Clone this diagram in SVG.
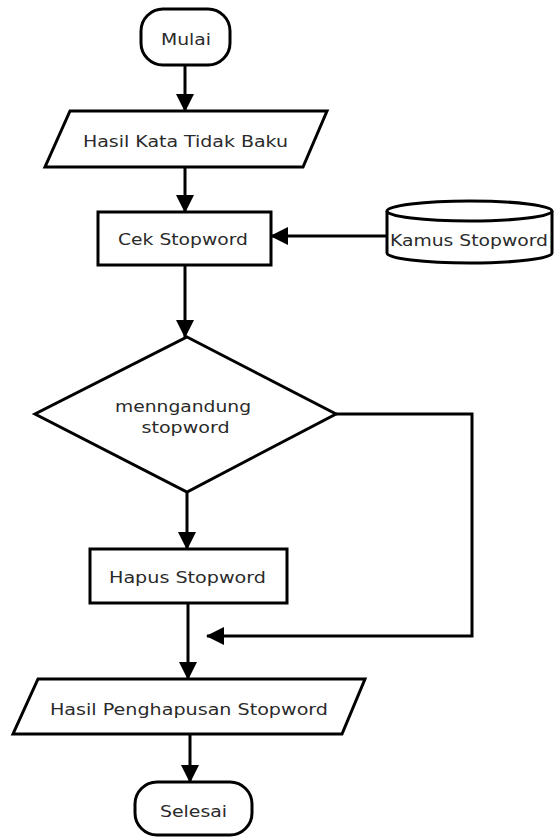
<svg xmlns="http://www.w3.org/2000/svg" width="558" height="837" viewBox="0 0 558 837">
  <style>
    .shape { fill: #ffffff; stroke: #000000; stroke-width: 3; }
    .edge { fill: none; stroke: #000000; stroke-width: 3; }
    .label { font-family: "DejaVu Sans", "Liberation Sans", sans-serif; font-size: 16px; fill: #2a2a2a; text-anchor: middle; }
  </style>
  <defs>
    <marker id="arrow" viewBox="0 0 18 18" refX="17" refY="9" markerWidth="18" markerHeight="18" markerUnits="userSpaceOnUse" orient="auto">
      <path d="M0,0 L18,9 L0,18 z" fill="#000000"/>
    </marker>
  </defs>
  <rect width="558" height="837" fill="#ffffff"/>

  <!-- connectors -->
  <g id="connectors">
    <path class="edge" d="M185,65 V111" marker-end="url(#arrow)"/>
    <path class="edge" d="M185,167 V212" marker-end="url(#arrow)"/>
    <path class="edge" d="M387,236 H271" marker-end="url(#arrow)"/>
    <path class="edge" d="M185,265 V337" marker-end="url(#arrow)"/>
    <path class="edge" d="M187,492 V549" marker-end="url(#arrow)"/>
    <path class="edge" d="M188,603 V679" marker-end="url(#arrow)"/>
    <path class="edge" d="M336,414 H472 V636 H207" marker-end="url(#arrow)"/>
    <path class="edge" d="M190,734 V782" marker-end="url(#arrow)"/>
  </g>

  <g id="mulai">
    <rect class="shape" x="141" y="9" width="89" height="56" rx="22" ry="22"/>
    <text class="label" x="186" y="45" textLength="50" lengthAdjust="spacingAndGlyphs">Mulai</text>
  </g>

  <g id="hasil-kata-tidak-baku">
    <polygon class="shape" points="70,111 327,111 303,167 45,167"/>
    <text class="label" x="185.5" y="147" textLength="205" lengthAdjust="spacingAndGlyphs">Hasil Kata Tidak Baku</text>
  </g>

  <g id="cek-stopword">
    <rect class="shape" x="98" y="212" width="173" height="53"/>
    <text class="label" x="183" y="245" textLength="130" lengthAdjust="spacingAndGlyphs">Cek Stopword</text>
  </g>

  <g id="kamus-stopword">
    <path class="shape" d="M387,211 A82.5,10 0 0 1 552,211 V253 A82.5,10 0 0 1 387,253 Z"/>
    <path class="edge" d="M387,211 A82.5,10 0 0 0 552,211"/>
    <text class="label" x="469" y="246" textLength="158" lengthAdjust="spacingAndGlyphs">Kamus Stopword</text>
  </g>

  <g id="menngandung-stopword">
    <polygon class="shape" points="187,337 336,414 187,492 35,414"/>
    <text class="label" x="183" y="412" textLength="136" lengthAdjust="spacingAndGlyphs">menngandung</text>
    <text class="label" x="185.5" y="433" textLength="88" lengthAdjust="spacingAndGlyphs">stopword</text>
  </g>

  <g id="hapus-stopword">
    <rect class="shape" x="90" y="549" width="197" height="54"/>
    <text class="label" x="187.5" y="583" textLength="157" lengthAdjust="spacingAndGlyphs">Hapus Stopword</text>
  </g>

  <g id="hasil-penghapusan-stopword">
    <polygon class="shape" points="38,679 365,679 342,734 13,734"/>
    <text class="label" x="189" y="715" textLength="278" lengthAdjust="spacingAndGlyphs">Hasil Penghapusan Stopword</text>
  </g>

  <g id="selesai">
    <rect class="shape" x="135" y="782" width="117" height="53" rx="22" ry="22"/>
    <text class="label" x="193.5" y="817" textLength="67" lengthAdjust="spacingAndGlyphs">Selesai</text>
  </g>
</svg>
